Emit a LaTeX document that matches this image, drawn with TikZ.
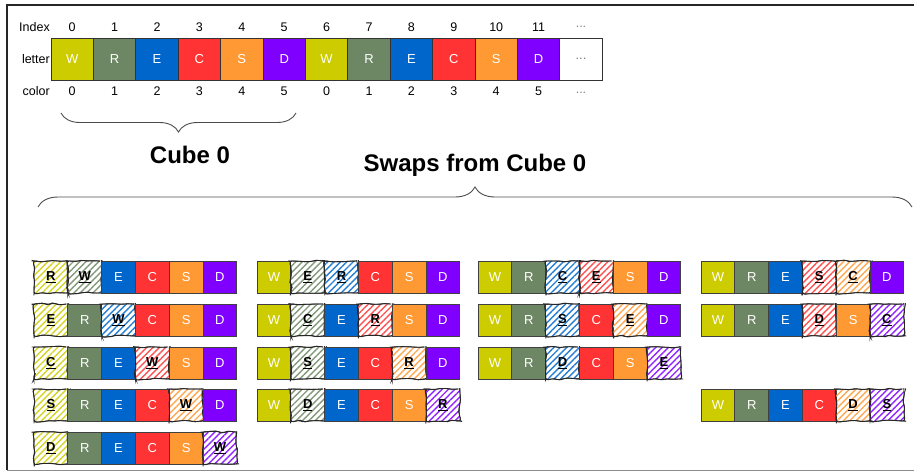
\documentclass[tikz,border=0pt]{standalone}
\usepackage{fontspec}
\setmainfont{Liberation Sans}
\usetikzlibrary{positioning,decorations.pathreplacing,decorations.pathmorphing,patterns.meta}

\definecolor{col0}{HTML}{CCCC00}
\definecolor{col1}{HTML}{6D8764}
\definecolor{col2}{HTML}{0066CC}
\definecolor{col3}{HTML}{FF3333}
\definecolor{col4}{HTML}{FF9933}
\definecolor{col5}{HTML}{7F00FF}

\tikzset{
  lbl/.style={inner sep=0pt, font=\fontsize{12.5}{14}\selectfont},
  title/.style={inner sep=0pt, font=\fontsize{24}{28}\selectfont\bfseries},
  topcell/.style={draw=black!80, line width=0.9pt, fill=#1, text=white,
    minimum width=42.4pt, minimum height=42pt, inner sep=0pt, outer sep=0pt,
    font=\fontsize{13}{15}\selectfont},
  plaincell/.style={draw=black!75, line width=0.8pt, fill=#1, text=white,
    minimum width=33.8pt, minimum height=32pt, inner sep=0pt, outer sep=0pt,
    font=\fontsize{13}{15}\selectfont},
  swapcell/.style={draw=black!85, line width=0.9pt,
    pattern={Lines[angle=45,distance=4.5pt,line width=1.4pt]}, pattern color=#1!85,
    rounded corners=1.5pt, decorate,
    decoration={random steps,segment length=6pt,amplitude=0.8pt},
    postaction={draw=black!85, line width=0.7pt, rounded corners=3pt, decorate,
      decoration={random steps,segment length=9pt,amplitude=1.1pt}},
    text=black, minimum width=33.8pt, minimum height=32pt, inner sep=0pt,
    outer sep=0pt, font=\fontsize{13}{15}\selectfont\bfseries},
  curly/.style={decorate, decoration={brace,amplitude=#1}, line width=0.9pt, black!70}
}

% one row of six cells, #5 and #6 are the swapped positions
\newcommand{\permrow}[6]{%
  \foreach \ltr [count=\i from 0] in {#4} {
    \def\sty{plaincell}\def\txt{\ltr}
    \ifnum\i=#5\relax \def\sty{swapcell}\def\txt{\underline{\ltr}}\fi
    \ifnum\i=#6\relax \def\sty{swapcell}\def\txt{\underline{\ltr}}\fi
    \node[\sty=col\i] (#1-\i) at ({#2+16.9+33.8*\i},#3) {\txt};
  }
}

\begin{document}
\begin{tikzpicture}[x=1pt, y=-1pt]
  \pgfmathsetseed{7}
  \useasboundingbox (0,0) rectangle (914,475);
  % frame
  \draw[line width=1.5pt, black!85] (914,5) -- (7,5) -- (7,470);
  \draw[line width=1pt, black!45] (7,470) -- (914,470);

  % row labels
  \node[lbl, anchor=east] (idxlbl) at (50,27) {Index};
  \node[lbl, anchor=east] (ltrlbl) at (50,59) {letter};
  \node[lbl, anchor=east] (clrlbl) at (50,91) {color};

  % the letter array
  \foreach \ltr [count=\i from 0] in {W,R,E,C,S,D,W,R,E,C,S,D} {
    \pgfmathtruncatemacro\colidx{mod(\i,6)}
    \node[topcell=col\colidx] (top-\i) at ({72.2+42.4*\i},59) {\ltr};
    \node[lbl] (idx-\i) at ({72.2+42.4*\i},27) {\i};
    \node[lbl] (clr-\i) at ({72.2+42.4*\i},91) {\colidx};
  }
  \node[topcell=white, text=gray] (top-12) at (581,59) {...};
  \node[lbl, text=gray] (idx-12) at (581,27) {...};
  \node[lbl, text=gray] (clr-12) at (581,93) {...};

  % braces and titles
  \coordinate (cubeL) at (61,113);
  \coordinate (cubeR) at (296,113);
  \draw[curly=19pt] (cubeR) -- (cubeL);
  \node[title] (cubelbl) at (190,155) {Cube 0};
  \node[title] (swaplbl) at (475,165) {Swaps from Cube 0};
  \coordinate (swapL) at (38,207);
  \coordinate (swapR) at (912,207);
  \draw[curly=20pt] (swapL) -- (swapR);

  % swaps with position 0
  \permrow{a1}{34}{277}{R,W,E,C,S,D}{0}{1}
  \permrow{a2}{34}{320}{E,R,W,C,S,D}{0}{2}
  \permrow{a3}{34}{363}{C,R,E,W,S,D}{0}{3}
  \permrow{a4}{34}{405}{S,R,E,C,W,D}{0}{4}
  \permrow{a5}{34}{448}{D,R,E,C,S,W}{0}{5}
  % swaps with position 1
  \permrow{b1}{257}{277}{W,E,R,C,S,D}{1}{2}
  \permrow{b2}{257}{320}{W,C,E,R,S,D}{1}{3}
  \permrow{b3}{257}{363}{W,S,E,C,R,D}{1}{4}
  \permrow{b4}{257}{405}{W,D,E,C,S,R}{1}{5}
  % swaps with position 2
  \permrow{c1}{478}{277}{W,R,C,E,S,D}{2}{3}
  \permrow{c2}{478}{320}{W,R,S,C,E,D}{2}{4}
  \permrow{c3}{478}{363}{W,R,D,C,S,E}{2}{5}
  % swaps with positions 3 and 4
  \permrow{d1}{701}{277}{W,R,E,S,C,D}{3}{4}
  \permrow{d2}{701}{320}{W,R,E,D,S,C}{3}{5}
  \permrow{d4}{701}{405}{W,R,E,C,D,S}{4}{5}
\end{tikzpicture}
\end{document}
